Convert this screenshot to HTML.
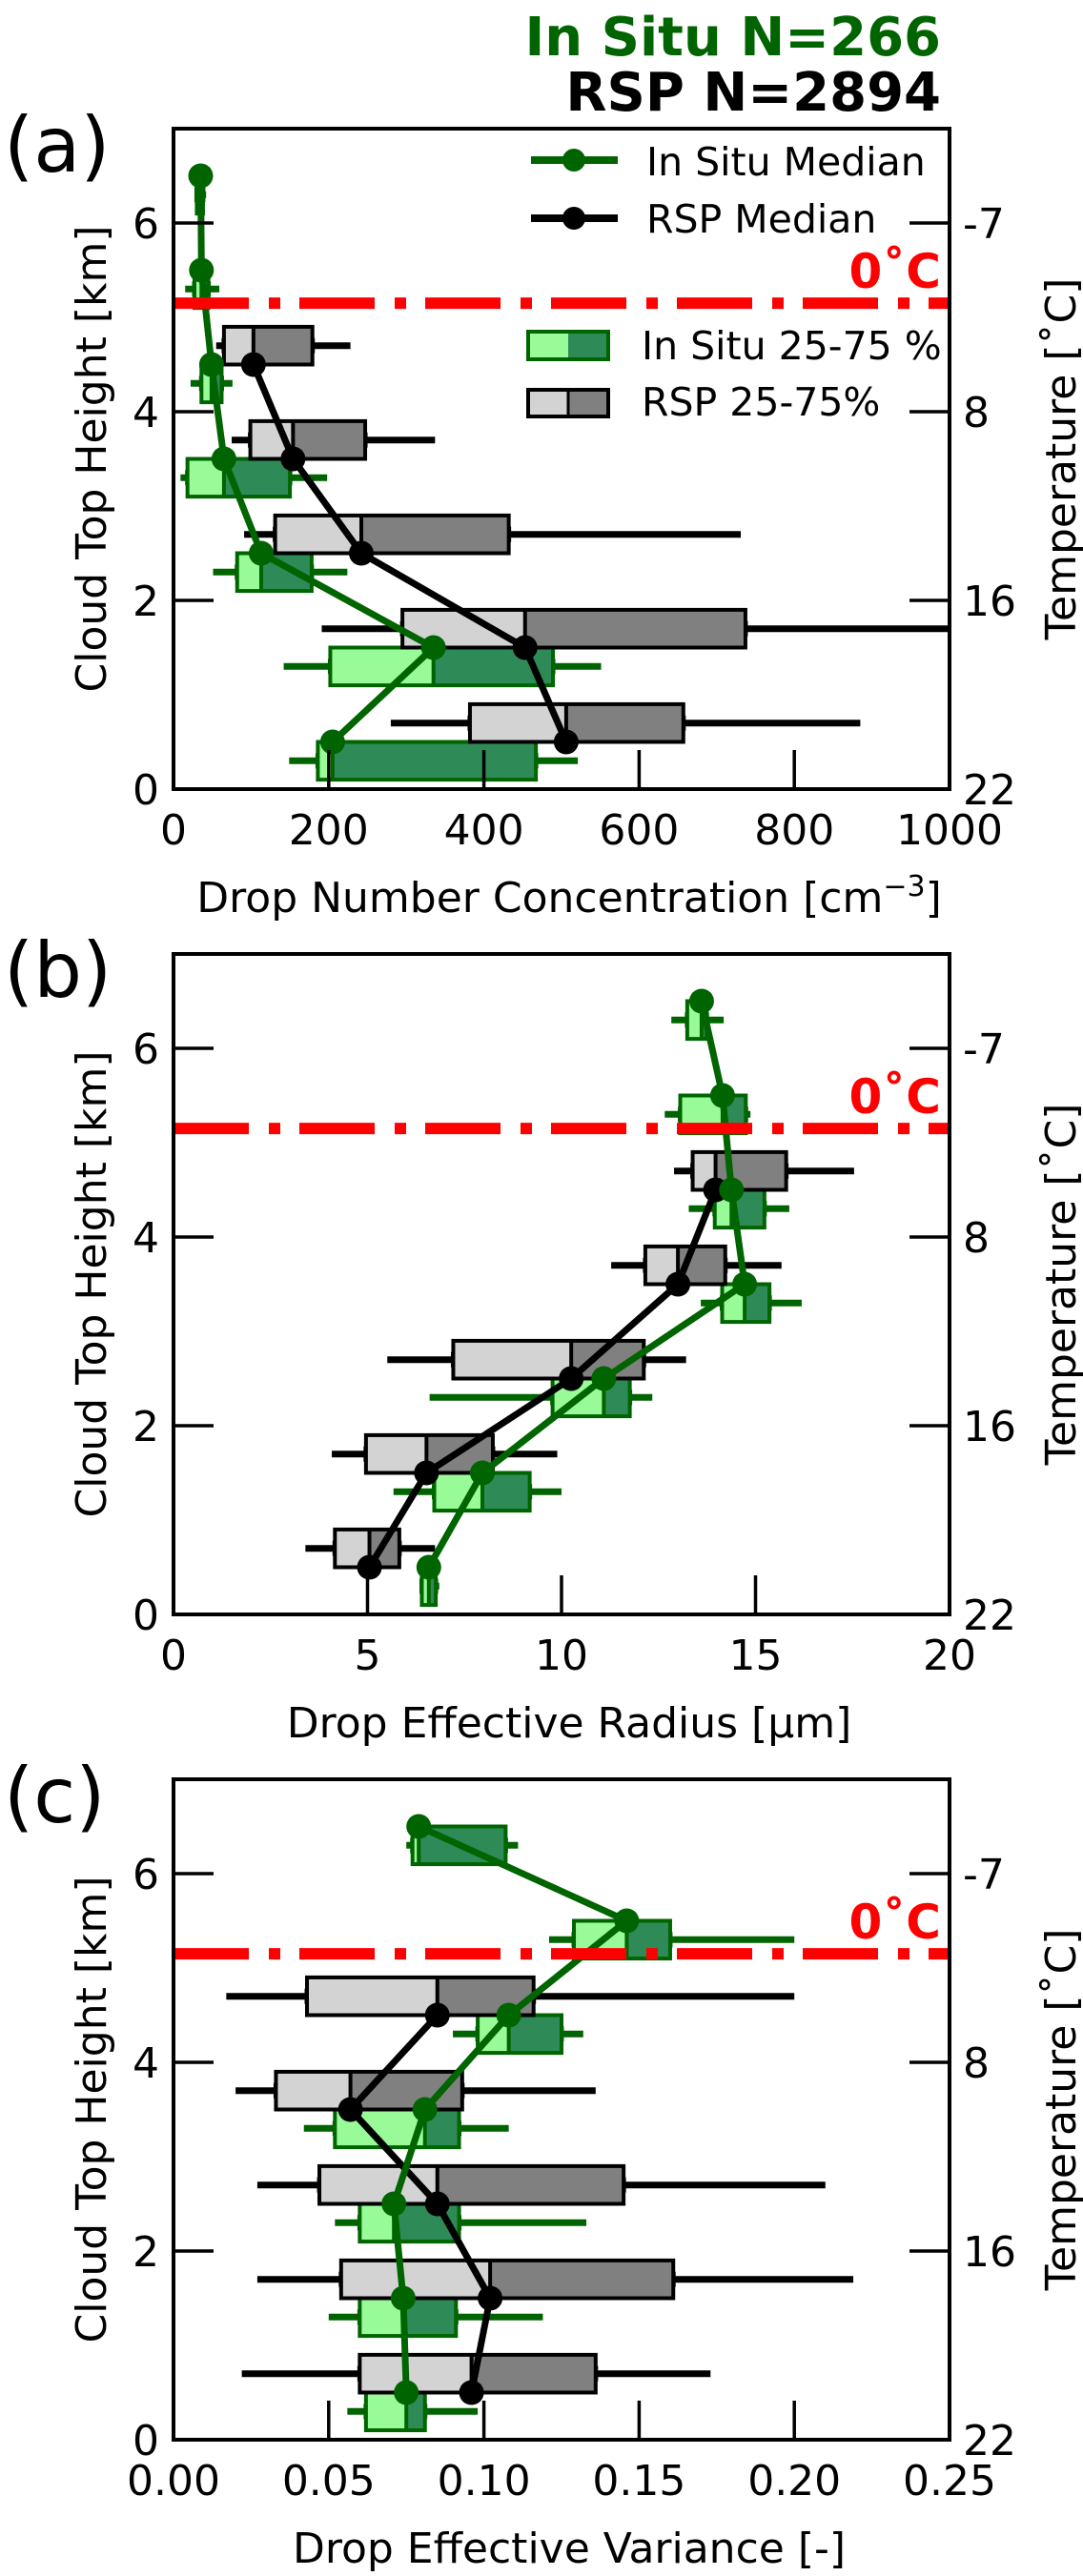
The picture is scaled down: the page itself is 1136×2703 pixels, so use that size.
<!DOCTYPE html>
<html><head><meta charset="utf-8"><style>
html,body{margin:0;padding:0;background:#fff;}
svg{display:block;font-family:"DejaVu Sans","Liberation Sans",sans-serif;}
</style></head><body>
<svg id="fig" width="1136" height="2703" viewBox="0 0 1136 2703" xmlns="http://www.w3.org/2000/svg">
<text x="987" y="58" text-anchor="end" font-size="56" font-weight="bold" fill="#006400">In Situ N=266</text>
<text x="987" y="116" text-anchor="end" font-size="56" font-weight="bold" fill="#000">RSP N=2894</text>
</svg>
<script>
// ---- data (bins at 0.5..6.5 km) ----
const bins = [0.5,1.5,2.5,3.5,4.5,5.5,6.5];
// Panel a: drop number concentration
const aIsMed = [205,335,113,65,49,36,35];
const aIsQ1 = [186,202,82,18,36,27,30];
const aIsQ3 = [467,489,178,150,62,45,38];
const aIsLo = [149,142,51,9,22,15,28];
const aIsHi = [521,551,224,198,76,59,42];
const aRsMed = [506,453,242,154,103];
const aRsQ1 = [382,295,131,99,65];
const aRsQ3 = [657,737,432,247,179];
const aRsLo = [280,191,91,75,55];
const aRsHi = [885,1050,731,337,228];
// Panel b: effective radius
const bIsMed = [6.58,7.96,11.09,14.72,14.38,14.15,13.61];
const bIsQ1 = [6.4,6.72,9.77,14.14,13.95,13.06,13.24];
const bIsQ3 = [6.76,9.18,11.76,15.36,15.23,14.75,13.74];
const bIsLo = [6.4,5.67,6.6,13.59,13.28,12.66,12.83];
const bIsHi = [6.85,10.0,12.34,16.19,15.87,14.87,14.18];
const bRsMed = [5.05,6.52,10.25,13.0,13.97];
const bRsQ1 = [4.16,4.96,7.21,12.16,13.38];
const bRsQ3 = [5.82,8.23,12.12,14.22,15.79];
const bRsLo = [3.4,4.08,5.51,11.28,12.9];
const bRsHi = [6.74,9.89,13.21,15.67,17.54];
// Panel c: effective variance
const cIsMed = [0.075,0.074,0.071,0.081,0.108,0.146,0.079];
const cIsQ1 = [0.062,0.060,0.060,0.052,0.098,0.129,0.077];
const cIsQ3 = [0.081,0.091,0.092,0.092,0.125,0.160,0.107];
const cIsLo = [0.056,0.050,0.052,0.042,0.090,0.121,0.075];
const cIsHi = [0.098,0.119,0.133,0.108,0.132,0.200,0.111];
const cRsMed = [0.096,0.102,0.085,0.057,0.085];
const cRsQ1 = [0.060,0.054,0.047,0.033,0.043];
const cRsQ3 = [0.136,0.161,0.145,0.093,0.116];
const cRsLo = [0.022,0.027,0.027,0.020,0.017];
const cRsHi = [0.173,0.219,0.210,0.136,0.200];
const yTicks = [0,2,4,6];
const tempLabels = ['22','16','8','-7'];
const aTicks = [0,200,400,600,800,1000];
const bTicks = [0,5,10,15,20];
const cTicks = [0,0.05,0.10,0.15,0.20,0.25];
const cTickLabels = ['0.00','0.05','0.10','0.15','0.20','0.25'];
const freezeKm = 5.15;

const NS='http://www.w3.org/2000/svg';
const svg=document.getElementById('fig');
function mk(tag,attrs,parent){const e=document.createElementNS(NS,tag);for(const k in attrs)e.setAttribute(k,attrs[k]);(parent||svg).appendChild(e);return e;}

const L=182,R=996,H=693;
function panel(id,top,xmax,ticks,tickLabels,xtitle,label,isD,rsD,clipId){
  const B=top+H;
  const xs=v=>L+v/xmax*(R-L);
  const ys=v=>B-v/7*H;
  const g=mk('g',{});
  
  
  const cp=mk('clipPath',{id:clipId},g);
  mk('rect',{x:L,y:top,width:R-L,height:H},cp);
  const pl=mk('g',{'clip-path':'url(#'+clipId+')'},g);
  function boxes(d,off,light,dark,edge,name){
    d.med.forEach((m,i)=>{
      const yc=bins[i]+off;
      const wy=ys(yc);
      const w=mk('line',{x1:xs(d.lo[i]),x2:xs(d.hi[i]),y1:wy,y2:wy,stroke:edge,'stroke-width':7},pl);
      
      
      mk('line',{x1:xs(d.q1[i]),x2:xs(d.q1[i]),y1:wy-8,y2:wy+8,stroke:edge,'stroke-width':5},pl);
      mk('line',{x1:xs(d.q3[i]),x2:xs(d.q3[i]),y1:wy-8,y2:wy+8,stroke:edge,'stroke-width':5},pl);
      const y0=ys(yc+0.2),y1=ys(yc-0.2);
      const r1=mk('rect',{x:xs(d.q1[i]),y:y0,width:xs(m)-xs(d.q1[i]),height:y1-y0,fill:light},pl);
      
      
      const r2=mk('rect',{x:xs(m),y:y0,width:Math.max(0,xs(d.q3[i])-xs(m)),height:y1-y0,fill:dark},pl);
      
      
      mk('rect',{x:xs(d.q1[i]),y:y0,width:xs(d.q3[i])-xs(d.q1[i]),height:y1-y0,fill:'none',stroke:edge,'stroke-width':4},pl);
      mk('line',{x1:xs(m),x2:xs(m),y1:y0,y2:y1,stroke:edge,'stroke-width':4},pl);
    });
  }
  boxes(isD,-0.2,'#98FB98','#2E8B57','#006400','in-situ');
  boxes(rsD,0.2,'#D3D3D3','#808080','#000','rsp');
  function medLine(d,col,name){
    const pts=d.med.map((m,i)=>xs(m)+','+ys(bins[i])).join(' ');
    const pl2=mk('polyline',{points:pts,fill:'none',stroke:col,'stroke-width':7},pl);
    
    
    d.med.forEach((m,i)=>{const c=mk('circle',{cx:xs(m),cy:ys(bins[i]),r:13,fill:col},pl);
      
      });
  }
  medLine(rsD,'#000','rsp');
  medLine(isD,'#006400','in-situ');
  const fl=mk('line',{x1:L,x2:R,y1:ys(freezeKm),y2:ys(freezeKm),stroke:'#f00','stroke-width':12,'stroke-dasharray':'79 21 12 20'},pl);
  
  
  const ft=mk('text',{x:987,y:ys(freezeKm)-16,'text-anchor':'end','font-size':50,'font-weight':'bold',fill:'#f00'},g);
  ft.textContent='0˚C';
  
  
  yTicks.forEach((t,i)=>{
    const y=ys(t);
    if(t>0){mk('line',{x1:L,x2:L+42,y1:y,y2:y,stroke:'#000','stroke-width':3.5},g);
      mk('line',{x1:R-42,x2:R,y1:y,y2:y,stroke:'#000','stroke-width':3.5},g);}
    const tl=mk('text',{x:167,y:y+16,'text-anchor':'end','font-size':44},g);tl.textContent=t;
    
    
    const tr=mk('text',{x:1010,y:y+16,'font-size':44},g);tr.textContent=tempLabels[i];
    
    
  });
  ticks.forEach((t,i)=>{
    const x=xs(t);
    if(i>0&&i<ticks.length-1)mk('line',{x1:x,x2:x,y1:B-41,y2:B,stroke:'#000','stroke-width':3.5},g);
    const tx=mk('text',{x:x,y:B+58,'text-anchor':'middle','font-size':44},g);tx.textContent=tickLabels[i];
    
    
  });
  mk('rect',{x:L,y:top,width:R-L,height:H,fill:'none',stroke:'#000','stroke-width':4},g);
  const xt=mk('text',{x:(L+R)/2+8,y:B+129,'text-anchor':'middle','font-size':44},g);xt.innerHTML=xtitle;
  
  
  const yt=mk('text',{transform:'translate(111,'+(top+H/2)+') rotate(-90)','text-anchor':'middle','font-size':44},g);yt.textContent='Cloud Top Height [km]';
  
  
  const rt=mk('text',{transform:'translate(1128,'+(top+H/2)+') rotate(-90)','text-anchor':'middle','font-size':44},g);rt.textContent='Temperature [˚C]';
  
  
  const lb=mk('text',{x:4,y:top+45,'font-size':80},g);lb.textContent=label;
  
  
  return {xs,ys,g};
}
panel('a',135,1000,aTicks,aTicks.map(String),'Drop Number Concentration [cm<tspan baseline-shift="super" font-size="30">−3</tspan>]','(a)',
 {med:aIsMed,q1:aIsQ1,q3:aIsQ3,lo:aIsLo,hi:aIsHi},{med:aRsMed,q1:aRsQ1,q3:aRsQ3,lo:aRsLo,hi:aRsHi},'ca');
panel('b',1001,20,bTicks,bTicks.map(String),'Drop Effective Radius [μm]','(b)',
 {med:bIsMed,q1:bIsQ1,q3:bIsQ3,lo:bIsLo,hi:bIsHi},{med:bRsMed,q1:bRsQ1,q3:bRsQ3,lo:bRsLo,hi:bRsHi},'cb');
panel('c',1867,0.25,cTicks,cTickLabels,'Drop Effective Variance [-]','(c)',
 {med:cIsMed,q1:cIsQ1,q3:cIsQ3,lo:cIsLo,hi:cIsHi},{med:cRsMed,q1:cRsQ1,q3:cRsQ3,lo:cRsLo,hi:cRsHi},'cc');
const lg=mk('g',{});


mk('line',{x1:557,x2:648,y1:168,y2:168,stroke:'#006400','stroke-width':8},lg);
mk('circle',{cx:602,cy:168,r:12,fill:'#006400'},lg);
const t1=mk('text',{x:678,y:184,'font-size':41},lg);t1.textContent='In Situ Median';
mk('line',{x1:557,x2:648,y1:229,y2:229,stroke:'#000','stroke-width':8},lg);
mk('circle',{cx:602,cy:229,r:12,fill:'#000'},lg);
const t2=mk('text',{x:678,y:244,'font-size':41},lg);t2.textContent='RSP Median';
mk('rect',{x:554,y:348,width:42,height:29,fill:'#98FB98'},lg);
mk('rect',{x:596,y:348,width:42,height:29,fill:'#2E8B57'},lg);
mk('rect',{x:554,y:348,width:84,height:29,fill:'none',stroke:'#006400','stroke-width':4},lg);
const t3=mk('text',{x:673,y:377,'font-size':41},lg);t3.textContent='In Situ 25-75 %';
mk('rect',{x:554,y:409,width:42,height:28,fill:'#D3D3D3'},lg);
mk('rect',{x:596,y:409,width:42,height:28,fill:'#808080'},lg);
mk('rect',{x:554,y:409,width:84,height:28,fill:'none',stroke:'#000','stroke-width':4},lg);
mk('line',{x1:596,x2:596,y1:409,y2:437,stroke:'#000','stroke-width':3},lg);
const t4=mk('text',{x:673,y:436,'font-size':41},lg);t4.textContent='RSP 25-75%';
</script>
</body></html>
